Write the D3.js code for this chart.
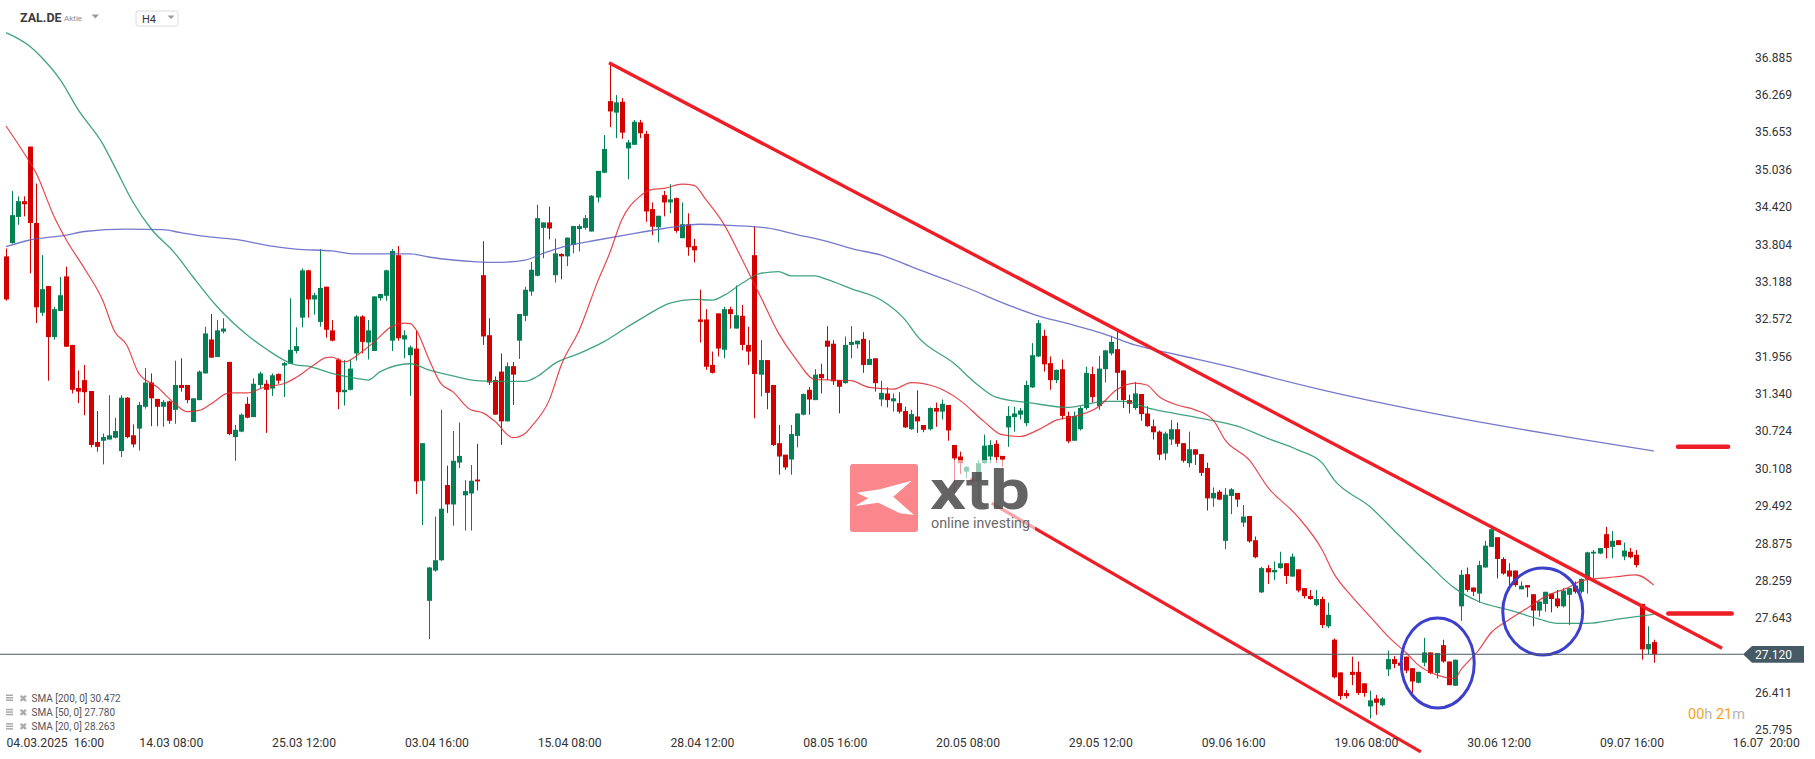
<!DOCTYPE html>
<html><head><meta charset="utf-8">
<script src="https://cdn.jsdelivr.net/npm/d3@7/dist/d3.min.js"></script>
<style>
body{margin:0;background:#fff;}
svg{display:block;font-family:Roboto,"Noto Sans",sans-serif;}
.ax text{white-space:pre;}
</style>
</head><body>
<svg id="c" width="1815" height="759"></svg>
<script>
// ---------- DATA ----------
const opens = [
33.68,33.90,34.33,34.59,35.49,34.23,32.75,33.19,32.35,32.78,
33.35,32.22,31.51,31.64,31.46,30.62,30.64,30.66,30.69,30.47,
31.35,30.73,30.84,31.20,31.60,31.33,31.20,31.29,31.15,31.56,
31.56,30.95,31.31,31.75,32.31,32.02,32.44,31.94,30.70,30.79,
31.25,31.03,31.56,31.58,31.50,31.74,31.88,31.91,32.12,32.67,
33.45,32.97,32.60,33.18,32.46,31.98,31.44,31.48,32.08,32.69,
32.26,32.12,32.99,33.03,32.29,33.70,32.31,32.05,32.16,29.98,
28.00,28.50,28.67,29.91,29.59,30.28,29.74,29.77,30.00,33.37,
32.38,31.64,31.78,30.96,31.87,32.29,32.70,33.10,33.36,34.15,
34.24,33.37,33.72,33.68,33.87,34.13,34.15,34.09,34.65,35.06,
36.24,36.05,36.23,35.46,35.52,35.89,35.70,34.46,34.16,34.69,
34.57,34.64,33.98,34.21,33.85,32.64,32.64,31.89,32.74,32.14,
32.81,32.49,32.70,32.22,33.70,31.73,31.97,31.56,30.60,30.41,
30.33,30.72,31.07,31.48,31.31,31.74,32.29,32.24,31.64,31.59,
32.22,32.23,32.32,31.89,32.00,31.32,31.42,31.29,31.26,31.13,
30.83,31.04,30.90,30.83,31.18,31.12,31.23,30.57,30.38,30.13,
30.02,29.97,30.27,30.38,30.59,30.39,30.86,31.03,31.07,30.93,
31.52,32.03,32.37,31.92,31.64,31.82,31.05,30.64,30.83,31.18,
31.74,31.21,31.82,32.08,32.15,31.80,31.31,31.18,31.41,31.09,
30.88,30.79,30.43,30.66,30.83,30.60,30.27,30.50,30.42,30.19,
29.69,29.80,28.99,29.73,29.78,29.29,29.40,29.00,28.14,28.54,
28.47,28.54,28.62,28.40,28.52,28.21,28.08,27.93,28.03,27.58,
27.36,26.82,26.48,26.83,26.83,26.64,26.26,26.39,26.28,26.87,
27.04,26.98,27.08,26.89,26.65,26.98,27.15,26.81,27.27,27.00,
26.60,27.91,28.44,28.22,28.12,28.55,28.89,29.05,28.69,28.50,
28.50,28.19,28.26,28.11,27.84,27.95,28.12,28.04,27.91,28.10,
28.25,28.15,28.36,28.78,28.78,29.10,28.89,29.00,28.73,28.81,
28.76,27.95,27.20,27.32];
const highs = [
33.81,34.76,34.67,34.67,35.49,34.88,33.70,33.19,32.85,33.34,
33.51,32.22,31.80,31.89,31.46,31.13,30.76,31.39,31.02,31.39,
31.36,30.91,31.28,31.84,31.75,31.33,31.31,31.30,31.96,32.00,
31.56,31.34,31.80,32.52,32.73,32.63,32.66,31.94,30.90,31.09,
31.36,31.67,31.78,31.64,31.75,31.75,31.94,32.99,32.51,33.48,
33.46,33.08,33.80,33.18,32.63,32.00,31.97,31.97,32.71,32.71,
32.63,33.02,33.06,33.46,33.80,33.85,32.46,32.21,32.46,30.60,
28.56,29.39,31.15,30.23,30.80,30.94,29.99,30.24,30.59,33.93,
32.66,31.70,32.08,31.93,31.94,32.73,33.18,33.59,34.53,34.24,
34.50,33.97,33.73,33.99,34.18,34.21,34.36,34.69,35.09,35.68,
36.87,36.34,36.29,35.60,35.93,35.93,35.75,34.57,34.35,34.76,
34.87,34.65,34.57,34.39,33.97,33.13,32.81,32.11,32.74,32.85,
32.85,33.20,32.88,32.52,34.18,32.30,31.97,31.56,30.90,30.41,
30.90,31.09,31.42,31.53,31.82,31.91,32.53,32.30,31.64,32.36,
32.53,32.29,32.43,32.30,32.00,31.63,31.52,31.42,31.44,31.20,
31.15,31.47,30.90,31.19,31.27,31.32,31.23,30.57,30.46,30.22,
30.03,30.32,30.74,30.65,30.65,30.39,31.21,31.20,31.18,31.63,
32.25,32.63,32.47,32.03,31.81,31.98,31.12,31.12,31.21,31.86,
31.86,32.04,32.14,32.37,32.47,31.80,31.40,31.61,31.41,31.21,
30.99,30.81,30.79,30.98,30.94,30.60,30.79,30.50,30.42,30.28,
29.87,29.83,29.86,29.86,29.78,29.58,29.40,29.06,28.56,28.59,
28.65,28.81,28.62,28.78,28.52,28.21,28.18,28.18,28.07,27.97,
27.38,26.82,26.53,27.08,27.00,26.64,26.52,26.45,26.41,27.18,
27.09,27.00,27.08,26.89,26.83,27.39,27.15,27.14,27.36,27.00,
27.03,28.51,28.55,28.22,28.66,28.99,29.20,29.05,28.72,28.62,
28.50,28.32,28.26,28.11,27.99,28.15,28.12,28.18,28.21,28.21,
28.32,28.37,28.81,28.84,28.87,29.22,29.15,29.00,28.96,28.87,
28.84,27.95,27.58,27.36];
const lows = [
32.95,33.89,34.20,34.34,33.40,32.58,32.70,31.63,32.31,32.78,
32.19,31.42,31.26,31.06,30.53,30.46,30.25,30.66,30.68,30.37,
30.68,30.53,30.48,31.17,30.88,30.88,30.87,30.92,30.92,31.45,
31.26,30.95,31.31,31.75,32.01,32.02,32.41,30.73,30.31,30.78,
31.01,31.03,31.50,30.77,31.38,31.58,31.36,31.91,32.08,32.51,
32.67,32.72,32.52,32.34,32.28,31.16,31.22,31.47,31.96,32.08,
31.98,32.12,32.95,32.95,32.12,32.29,32.00,31.38,29.76,29.25,
27.37,28.48,28.66,29.45,29.24,30.19,29.16,29.16,29.82,32.22,
31.56,31.07,30.57,30.96,31.23,31.99,32.61,33.03,33.35,33.65,
33.96,33.25,33.30,33.52,33.73,33.76,34.12,34.09,34.57,35.05,
35.81,35.63,35.62,34.95,35.52,35.63,34.25,34.03,33.91,34.34,
34.39,34.07,33.98,33.69,33.58,32.26,31.81,31.75,32.03,32.00,
32.49,32.49,32.13,31.89,31.01,31.37,31.16,30.55,30.08,30.16,
30.08,30.53,31.06,31.07,31.31,31.42,31.64,31.56,31.09,31.58,
32.00,32.16,31.76,31.89,31.45,31.21,31.19,31.12,31.09,30.85,
30.82,30.77,30.78,30.81,30.87,30.99,30.64,29.78,30.09,30.02,
29.96,29.66,30.26,30.27,30.27,30.21,30.54,30.79,30.99,30.88,
31.51,32.02,31.78,31.48,31.59,30.99,30.60,30.64,30.81,31.15,
31.27,31.15,31.60,32.05,31.31,31.18,31.09,31.15,30.97,30.87,
30.66,30.32,30.32,30.57,30.54,30.28,30.20,30.24,30.06,29.49,
29.55,29.66,28.85,29.43,29.55,29.22,28.96,28.70,28.13,28.28,
28.34,28.53,28.28,28.40,28.14,28.04,28.02,27.91,27.55,27.55,
26.72,26.37,26.39,26.61,26.45,26.42,26.06,26.12,26.26,26.76,
26.89,26.86,26.81,26.48,26.64,26.92,26.79,26.72,26.98,26.61,
26.60,27.67,28.15,28.08,27.97,28.55,28.89,28.37,28.43,28.25,
28.23,28.19,28.06,27.58,27.74,27.82,27.81,27.88,27.89,27.60,
28.12,28.12,28.12,28.37,28.77,28.70,28.70,28.92,28.67,28.70,
28.55,27.03,27.12,26.98];
const closes = [
32.97,34.36,34.59,34.54,34.23,32.84,33.14,32.35,32.81,33.04,
32.19,31.48,31.45,31.44,30.57,30.54,30.70,30.73,30.80,31.35,
30.70,30.58,31.23,31.60,31.34,31.20,31.28,30.97,31.56,31.51,
31.31,31.34,31.78,32.41,32.01,32.46,32.49,30.75,30.82,31.07,
31.02,31.58,31.75,31.48,31.72,31.63,31.92,32.14,32.20,33.45,
32.97,33.04,33.16,32.47,32.29,31.44,31.48,31.83,32.69,32.27,
32.46,33.02,33.06,33.45,33.77,32.33,32.38,32.18,29.97,30.60,
28.55,28.67,29.52,29.59,30.31,30.39,29.81,29.98,29.97,32.36,
31.60,31.07,30.96,31.87,31.73,32.73,33.13,33.46,34.31,34.24,
34.14,33.73,33.68,33.99,34.18,34.18,34.31,34.68,35.09,35.45,
36.07,36.22,35.72,35.56,35.90,35.71,34.42,34.17,34.35,34.57,
34.62,34.10,34.21,33.83,33.78,32.60,31.86,31.76,32.16,32.81,
32.73,32.71,32.22,32.11,31.74,31.97,31.43,30.57,30.38,30.20,
30.75,31.09,31.41,31.32,31.73,31.67,32.19,31.62,31.53,32.22,
32.27,32.29,31.89,31.99,31.59,31.43,31.31,31.34,31.12,30.86,
31.08,30.96,30.82,31.18,31.12,31.25,30.81,30.35,30.27,30.21,
29.97,30.27,30.56,30.57,30.37,30.33,31.05,31.09,31.14,31.56,
32.05,32.58,31.90,31.64,31.81,31.05,30.63,31.05,31.18,31.76,
31.36,31.83,32.13,32.27,31.76,31.31,31.25,31.42,31.08,30.88,
30.78,30.41,30.76,30.83,30.59,30.31,30.50,30.41,30.11,29.69,
29.78,29.67,29.75,29.84,29.67,29.39,28.98,28.72,28.54,28.47,
28.51,28.62,28.41,28.73,28.17,28.08,28.03,28.03,27.60,27.77,
26.74,26.43,26.43,26.78,26.48,26.48,26.36,26.32,26.39,27.04,
26.96,26.93,26.85,26.67,26.83,27.15,26.81,27.14,27.00,26.61,
27.03,28.43,28.18,28.15,28.59,28.91,29.18,28.69,28.45,28.40,
28.26,28.25,28.22,27.84,27.99,28.15,28.03,27.91,28.17,28.21,
28.15,28.36,28.80,28.81,28.87,28.87,28.99,28.92,28.83,28.72,
28.59,27.20,27.29,27.12];

// moving averages: [candle index, value]
const sma200 = [[0,33.84],[4,33.95],[10,34.03],[13,34.09],[20,34.13],[26,34.12],[29,34.07],[33,34.01],[38,33.96],[44,33.85],[48,33.80],[54,33.77],[58,33.72],[67,33.72],[70,33.67],[74,33.62],[78,33.59],[81,33.58],[86,33.62],[89,33.73],[92,33.83],[98,33.95],[103,34.04],[109,34.14],[115,34.21],[120,34.19],[126,34.15],[131,34.04],[137,33.90],[140,33.81],[145,33.70],[150,33.51],[155,33.32],[160,33.13],[164,32.96],[171,32.70],[176,32.57],[182,32.40],[187,32.22],[193,32.08],[198,31.97],[204,31.83],[209,31.70],[218,31.48],[229,31.24],[248,30.88],[260,30.68],[273,30.47]];
const sma50 = [[0,37.37],[4,37.14],[6,36.95],[9,36.59],[12,36.09],[16,35.54],[18,35.16],[21,34.58],[24,34.14],[28,33.73],[31,33.34],[35,32.85],[40,32.38],[43,32.16],[48,31.89],[50,31.87],[54,31.75],[58,31.67],[60,31.64],[62,31.78],[67,31.91],[70,31.81],[74,31.71],[78,31.63],[81,31.62],[86,31.62],[88,31.70],[91,31.92],[95,32.08],[99,32.27],[103,32.52],[106,32.70],[110,32.91],[114,32.97],[117,32.96],[119,33.04],[122,33.24],[125,33.40],[128,33.43],[130,33.36],[134,33.36],[136,33.30],[140,33.15],[145,32.96],[149,32.63],[151,32.36],[157,31.92],[161,31.56],[164,31.36],[170,31.26],[176,31.19],[182,31.29],[185,31.29],[190,31.16],[198,31.01],[204,30.88],[209,30.68],[214,30.49],[218,30.28],[220,30.00],[226,29.55],[231,29.06],[235,28.67],[240,28.21],[244,27.99],[249,27.85],[254,27.70],[257,27.63],[262,27.63],[267,27.70],[273,27.78]];
const sma20 = [[0,35.83],[3,35.38],[5,35.05],[8,34.33],[10,33.95],[13,33.48],[16,32.96],[18,32.44],[20,32.22],[22,31.75],[25,31.53],[28,31.25],[30,31.12],[32,31.14],[34,31.25],[37,31.43],[40,31.43],[43,31.53],[46,31.58],[48,31.68],[51,31.89],[53,32.01],[54,32.02],[56,31.94],[59,32.11],[61,32.27],[64,32.53],[66,32.58],[67,32.57],[68,32.46],[70,32.00],[72,31.59],[74,31.45],[77,31.15],[79,31.10],[81,30.96],[84,30.69],[86,30.76],[87,30.87],[90,31.31],[92,31.89],[95,32.47],[98,33.26],[100,33.73],[102,34.28],[105,34.67],[107,34.78],[109,34.80],[112,34.87],[114,34.85],[116,34.61],[119,34.20],[122,33.62],[125,33.02],[128,32.41],[131,31.97],[134,31.65],[137,31.64],[140,31.63],[143,31.52],[147,31.49],[150,31.60],[154,31.53],[158,31.31],[162,30.96],[165,30.74],[168,30.71],[171,30.82],[174,30.98],[177,31.04],[181,31.20],[184,31.48],[187,31.59],[189,31.56],[191,31.37],[194,31.23],[197,31.15],[200,30.98],[202,30.65],[206,30.32],[209,29.88],[214,29.39],[218,28.85],[220,28.45],[223,28.07],[226,27.74],[229,27.41],[232,27.14],[234,26.94],[237,26.78],[240,26.72],[241,26.86],[244,27.19],[246,27.47],[249,27.69],[252,27.88],[255,28.07],[259,28.23],[261,28.33],[265,28.38],[267,28.40],[270,28.43],[273,28.26]];

const legendItems = ["SMA [200, 0] 30.472", "SMA [50, 0] 27.780", "SMA [20, 0] 28.263"];
const yTicks = [36.885,36.269,35.653,35.036,34.420,33.804,33.188,32.572,31.956,31.340,30.724,30.108,29.492,28.875,28.259,27.643,27.027,26.411,25.795];
const xTickIndex = [0,22,44,66,88,110,132,154,176,198,220,242,264,286];
const xTickLabels = ["04.03.2025  16:00","14.03 08:00","25.03 12:00","03.04 16:00","15.04 08:00","28.04 12:00","08.05 16:00","20.05 08:00","29.05 12:00","09.06 16:00","19.06 08:00","30.06 12:00","09.07 16:00","16.07  20:00"];
const lastPrice = 27.120;
// drawn annotations: [index, price]
const trendUpper = [[99.9,36.874],[284.3,27.22]];
const trendLower = [[163.3,29.61],[234.4,25.51]];
const levels = [[277,285.3,30.54],[275.4,285.9,27.79]];
const circles = [[237.2,26.976],[254.6,27.825]];

// ---------- DRAW ----------
const svg = d3.select("#c");
const x = d3.scaleLinear().domain([0,286]).range([6, 6+286*6.036]);
const y = d3.scaleLinear().domain([25.795,36.885]).range([734.6,62]);

const GREEN="#038154", RED="#d40000";
const candles = opens.map((o,i)=>({i,o,h:highs[i],l:lows[i],c:closes[i]}));
const gC = svg.append("g");
gC.selectAll("line").data(candles).join("line")
  .attr("x1",d=>Math.round(x(d.i))+0.5).attr("x2",d=>Math.round(x(d.i))+0.5)
  .attr("y1",d=>y(d.h)).attr("y2",d=>y(d.l))
  .attr("stroke",d=>d.c>=d.o?GREEN:RED).attr("stroke-width",1);
gC.selectAll("rect").data(candles).join("rect")
  .attr("x",d=>Math.round(x(d.i))-2).attr("width",5)
  .attr("y",d=>y(Math.max(d.o,d.c)))
  .attr("height",d=>Math.max(1.2,Math.abs(y(d.o)-y(d.c))))
  .attr("fill",d=>d.c>=d.o?GREEN:RED);

const line = d3.line().x(d=>x(d[0])).y(d=>y(d[1])).curve(d3.curveMonotoneX);
svg.append("path").attr("d",line(sma200)).attr("fill","none").attr("stroke","#5d61c4").attr("stroke-opacity",0.85).attr("stroke-width",1.3);
svg.append("path").attr("d",line(sma50)).attr("fill","none").attr("stroke","#1f9467").attr("stroke-opacity",0.85).attr("stroke-width",1.3);
svg.append("path").attr("d",line(sma20)).attr("fill","none").attr("stroke","#e3272d").attr("stroke-opacity",0.85).attr("stroke-width",1.2);

// trend lines & levels
const tl = d3.line().x(d=>x(d[0])).y(d=>y(d[1]));
svg.append("path").attr("d",tl(trendUpper)).attr("stroke","#ee1d26").attr("stroke-width",3.4).attr("fill","none");
svg.append("path").attr("d",tl(trendLower)).attr("stroke","#ee1d26").attr("stroke-width",3.2).attr("fill","none");
svg.selectAll(".lvl").data(levels).join("line").attr("class","lvl")
  .attr("x1",d=>x(d[0])).attr("x2",d=>x(d[1])).attr("y1",d=>y(d[2])).attr("y2",d=>y(d[2]))
  .attr("stroke","#ee1d26").attr("stroke-width",4.5).attr("stroke-linecap","round");
svg.selectAll(".circ").data(circles).join("ellipse").attr("class","circ")
  .attr("cx",d=>x(d[0])).attr("cy",d=>y(d[1])).attr("rx",(d,i)=>i?40:36.5).attr("ry",(d,i)=>i?43.5:45)
  .attr("fill","none").attr("stroke","#3c40cc").attr("stroke-width",3);

// last price line + tag
svg.append("line").attr("x1",0).attr("x2",1743).attr("y1",y(lastPrice)).attr("y2",y(lastPrice))
  .attr("stroke","#4a5a64").attr("stroke-width",1.2);

// axes
const yAx = svg.append("g").attr("class","ax").attr("transform","translate(1792,0)")
  .call(d3.axisRight(y).tickValues(yTicks).tickSize(0).tickFormat(d=>d.toFixed(3)));
yAx.select(".domain").remove();
yAx.selectAll("text").attr("x",0).attr("dy",-0.8).attr("text-anchor","end")
  .attr("font-size",12).attr("font-family","Roboto").attr("fill","#333");

const py = y(lastPrice);
svg.append("path").attr("d",`M1743,${py} L1752,${py-8.3} L1804,${py-8.3} L1804,${py+8.4} L1752,${py+8.4} Z`).attr("fill","#455a64");
svg.append("text").attr("x",1792).attr("y",py+4.3).attr("text-anchor","end").attr("font-size",12).attr("fill","#fff").text(lastPrice.toFixed(3));

const xAx = svg.append("g").attr("class","ax").attr("transform","translate(0,0)")
  .call(d3.axisBottom(x).tickValues(xTickIndex).tickSize(0).tickFormat((d,i)=>xTickLabels[i]));
xAx.select(".domain").remove();
xAx.selectAll("text").attr("y",746.5).attr("dy",0).attr("text-anchor","start")
  .attr("font-size",12.2).attr("font-family","Roboto").attr("fill","#333");

// countdown
const cd = svg.append("text").attr("x",1688).attr("y",718.5).attr("font-size",14.5);
cd.append("tspan").attr("fill","#f7a21b").text("00");
cd.append("tspan").attr("fill","#b5b5b5").text("h ");
cd.append("tspan").attr("fill","#f7a21b").text("21");
cd.append("tspan").attr("fill","#b5b5b5").text("m");

// legend
const lg = svg.append("g");
legendItems.forEach((t,k)=>{
  const yy = 701.5 + k*14.3;
  lg.append("rect").attr("x",6).attr("y",yy-7).attr("width",7).attr("height",1.5).attr("fill","#aaa");
  lg.append("rect").attr("x",6).attr("y",yy-4.5).attr("width",7).attr("height",1.5).attr("fill","#aaa");
  lg.append("rect").attr("x",6).attr("y",yy-2).attr("width",7).attr("height",1.5).attr("fill","#aaa");
  lg.append("text").attr("x",19).attr("y",yy).attr("font-size",9.5).attr("fill","#aaa").text("✖");
  lg.append("text").attr("x",31.5).attr("y",yy).attr("font-size",10).attr("fill","#555").text(t);
});

// header
svg.append("text").attr("x",20).attr("y",21.5).attr("font-size",12.5).attr("font-weight","bold").attr("fill","#3b3b3b").text("ZAL.DE");
svg.append("text").attr("x",64).attr("y",21).attr("font-size",8).attr("fill","#8a8a8a").text("Aktie");
svg.append("path").attr("d","M91.5,14.5 L99,14.5 L95.25,18.5 Z").attr("fill","#9a9a9a");
svg.append("rect").attr("x",136).attr("y",11).attr("width",42).attr("height",15).attr("rx",2).attr("fill","#fff").attr("stroke","#dcdcdc");
svg.append("text").attr("x",142).attr("y",22.5).attr("font-size",11).attr("fill","#333").text("H4");
svg.append("path").attr("d","M167.5,15.5 L174.5,15.5 L171,19 Z").attr("fill","#9a9a9a");

// watermark logo
const lgo = svg.append("g");
lgo.append("rect").attr("x",848).attr("y",460).attr("width",187).attr("height",78).attr("fill","#fff").attr("opacity",0.6);
lgo.append("rect").attr("x",850).attr("y",464).attr("width",68).attr("height",68).attr("rx",3).attr("fill","#f9878c");
lgo.append("path").attr("d","M856.7,492.7 L880,489.3 L911.7,480.7 L893.3,496.7 L914,515 L900,513.3 L878.3,502.7 L855,506 L868.3,498.3 Z").attr("fill","#fff");
lgo.append("text").attr("x",930).attr("y",509).attr("font-size",56).attr("font-weight","bold").attr("font-family","Roboto")
  .attr("fill","#4a4a4a").attr("opacity",0.85).attr("textLength",100).attr("lengthAdjust","spacingAndGlyphs").text("xtb");
lgo.append("text").attr("x",931).attr("y",527.5).attr("font-size",15.5).attr("font-family","Roboto")
  .attr("fill","#6a6a6a").attr("textLength",99).attr("lengthAdjust","spacingAndGlyphs").text("online investing");
</script>
</body></html>
